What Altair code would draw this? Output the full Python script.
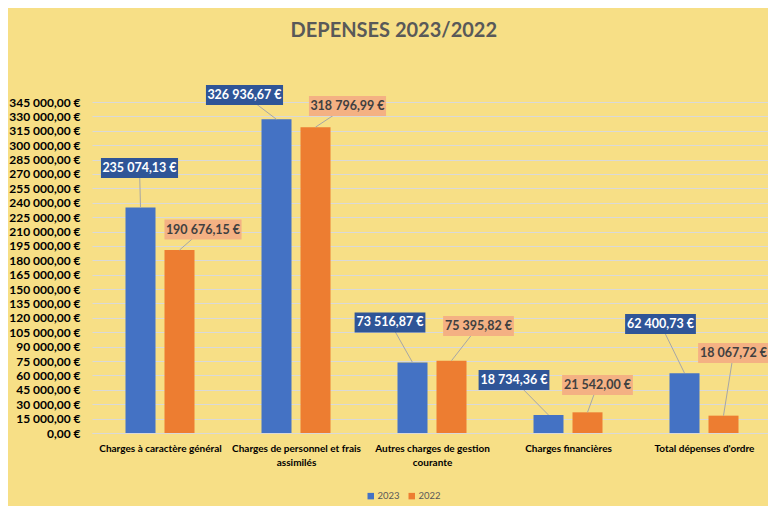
import json
import altair as alt
import pandas as pd

# ---------------- data ----------------
categories = [
    "Charges à caractère général",
    "Charges de personnel et frais assimilés",
    "Autres charges de gestion courante",
    "Charges financières",
    "Total dépenses d'ordre",
]
category_lines = [
    ["Charges à caractère général"],
    ["Charges de personnel et frais", "assimilés"],
    ["Autres charges de gestion", "courante"],
    ["Charges financières"],
    ["Total dépenses d'ordre"],
]
series = ["2023", "2022"]
values_2023 = [235074.13, 326936.67, 73516.87, 18734.36, 62400.73]
values_2022 = [190676.15, 318796.99, 75395.82, 21542.00, 18067.72]
# callout placement of each data label, as in the reference (value units / pixel nudge)
label_y_2023 = [276200, 352300, 115200, 55200, 113600]
label_y_2022 = [212100, 340800, 111500, 50000, 83400]
label_dx_2023 = [-1, -32, -22.5, -34.5, -24]
label_dx_2022 = [23.5, 32, 27, 10, 10]
y_ticks = list(range(0, 345001, 15000))
x_ticks = [0, 1, 2, 3, 4]

# ---------------- styling ----------------
FONT = "Lato"
BAND = 136.0          # px per category
PLOT_W = 676          # plot width (last category band slightly cut, as in the reference)
BAR_OFF = 19.5        # px from category centre to bar centre
BAR_COLORS = ["#4472C4", "#ED7D31"]
BOX_COLORS = ["#2F5597", "#F4B183"]
BG = "#F7DF86"


def fmt_eur(v):
    return f"{v:,.2f}".replace(",", " ").replace(".", ",") + " €"


rows = []
for s, vals, lys, ldxs, sign in [
    ("2023", values_2023, label_y_2023, label_dx_2023, -1),
    ("2022", values_2022, label_y_2022, label_dx_2022, 1),
]:
    for i, cat in enumerate(categories):
        pos = i + sign * BAR_OFF / BAND
        label = fmt_eur(vals[i])
        w = (len(label) * 6.3 + 1.5) / 20.0
        rows.append({
            "category": cat,
            "series": s,
            "value": vals[i],
            "pos": pos,
            "lpos": pos + ldxs[i] / BAND,
            "ly": lys[i],
            "label": label,
            "shape": f"M{-w:.3f},-1H{w:.3f}V1H{-w:.3f}Z",
        })
df = pd.DataFrame(rows)

x_label_expr = json.dumps(category_lines, ensure_ascii=False) + "[datum.value]"
y_label_expr = "replace(replace(format(datum.value, ',.2f'), ',', ' '), '.', ',') + ' €'"

xscale = alt.Scale(domain=[-0.5, -0.5 + PLOT_W / BAND], nice=False, zero=False, padding=0)
yscale = alt.Scale(domain=[0, 345000], nice=False, zero=True)

x_axis = alt.Axis(values=x_ticks, labelExpr=x_label_expr, grid=False,
                  ticks=False, domain=True, domainColor="#D9D9D9",
                  labelFont=FONT, labelFontSize=10, labelFontWeight="bold",
                  labelColor="#000000", labelPadding=10, labelLineHeight=14,
                  labelAngle=0, labelFlush=False, labelOverlap=False,
                  labelBound=False, title=None)
y_axis = alt.Axis(values=y_ticks, labelExpr=y_label_expr, grid=True,
                  gridColor="#D9D9D9", gridWidth=1, ticks=False, domain=False,
                  labelFont=FONT, labelFontSize=12, labelFontWeight="bold",
                  labelColor="#000000", labelPadding=12, labelOverlap=False,
                  title=None)


def X(field):
    return alt.X(field, type="quantitative", scale=xscale, axis=x_axis, title=None)


def Y(field):
    return alt.Y(field, type="quantitative", scale=yscale, axis=y_axis, title=None)


base = alt.Chart(df)

bars = base.mark_bar(size=30).encode(
    x=X("pos"),
    y=Y("value"),
    color=alt.Color("series:N", scale=alt.Scale(domain=series, range=BAR_COLORS),
                    legend=alt.Legend(orient="none", legendX=274, legendY=389,
                                      direction="horizontal", title=None,
                                      symbolType="square", symbolSize=42,
                                      symbolStrokeWidth=0, labelFont=FONT,
                                      labelFontSize=9.5, labelColor="#595959",
                                      columnPadding=7, labelOffset=2, padding=0)),
)

leaders = base.mark_rule(color="#A6A6A6", strokeWidth=1).encode(
    x=X("pos"), x2="lpos", y=Y("value"), y2="ly"
)

boxes = base.mark_point(filled=True, size=400, opacity=1, strokeWidth=0).encode(
    x=X("lpos"),
    y=Y("ly"),
    shape=alt.Shape("shape:N", scale=None),
    fill=alt.Fill("series:N", scale=alt.Scale(domain=series, range=BOX_COLORS), legend=None),
)

texts = base.mark_text(font=FONT, fontSize=12.5, fontWeight="bold", baseline="middle",
                       align="center").encode(
    x=X("lpos"),
    y=Y("ly"),
    text="label:N",
    color=alt.condition("datum.series == '2023'", alt.value("#FFFFFF"), alt.value("#404040")),
)

chart = alt.layer(bars, leaders, boxes, texts).properties(
    width=PLOT_W,
    height=331,
    autosize=alt.AutoSizeParams(type="none"),
    padding={"left": 84, "top": 94, "right": 0, "bottom": 73},
    background=BG,
    title=alt.TitleParams("DEPENSES 2023/2022", font=FONT, fontSize=20, fontWeight="bold",
                          color="#595959", anchor="middle", frame="bounds", offset=44,
                          dx=5),
).configure_view(stroke=None)

chart.save("out.html", embed_options={"renderer": "svg", "actions": False})
